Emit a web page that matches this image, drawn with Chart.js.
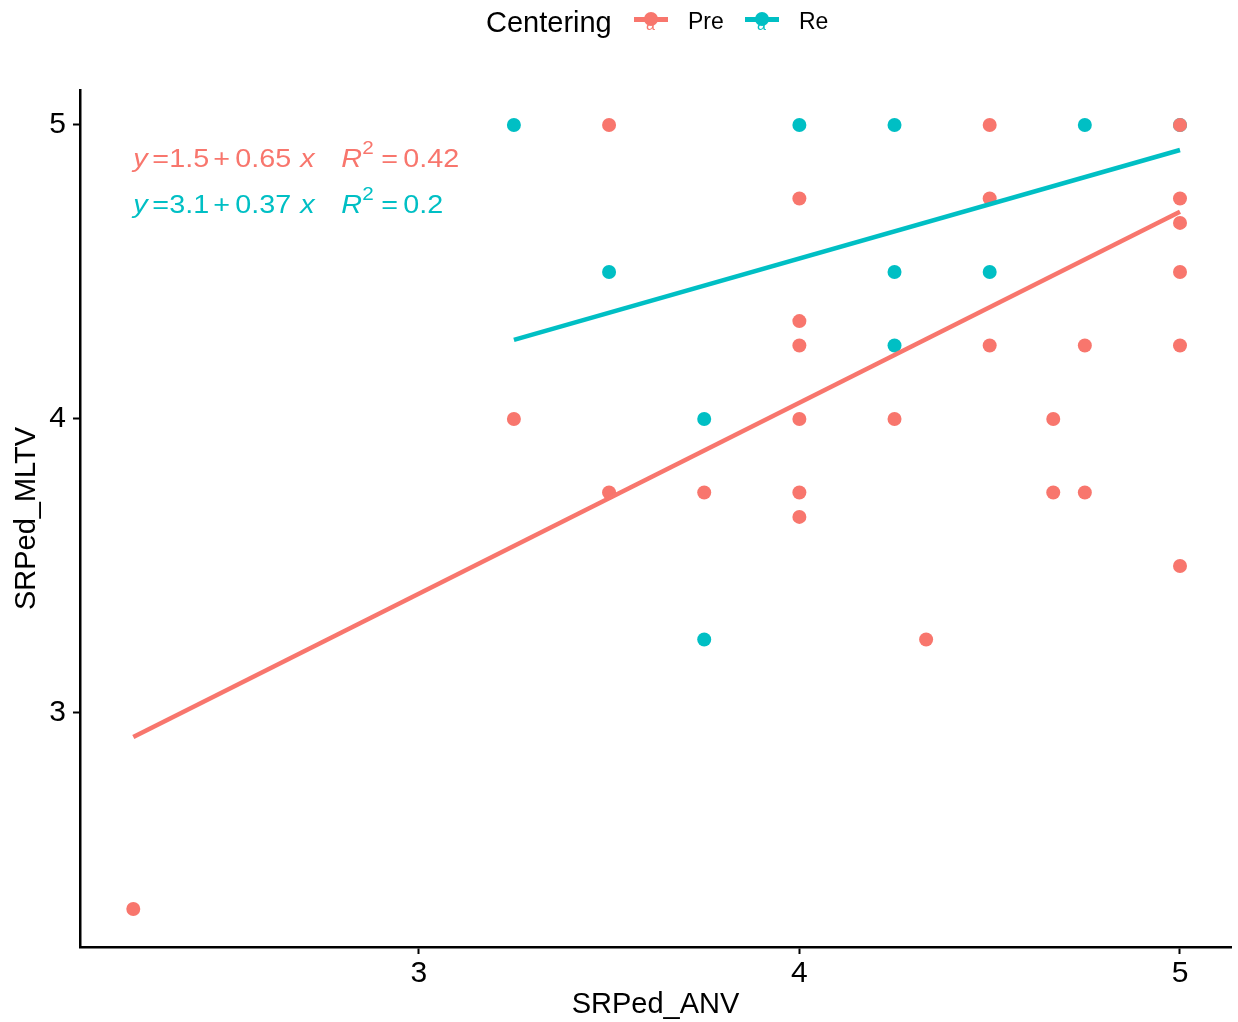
<!DOCTYPE html>
<html>
<head>
<meta charset="utf-8">
<script src="https://cdn.jsdelivr.net/npm/chart.js@4.4.1/dist/chart.umd.min.js"></script>
<style>
  html, body { margin: 0; padding: 0; background: #ffffff; }
  #wrap { position: relative; width: 1238px; height: 1022px; overflow: hidden; }
  #c { position: absolute; left: 0; top: 0; }
  .lg { position: absolute; font-family: "Liberation Sans", Arial, Helvetica, sans-serif; color: #000; white-space: nowrap; line-height: 1; }
  .kline { position: absolute; height: 5px; }
  .kdot { position: absolute; width: 14px; height: 14px; border-radius: 50%; }
  .ka { position: absolute; font-family: "Liberation Sans", Arial, sans-serif; font-size: 16px; line-height: 1; }
</style>
</head>
<body>
<div id="wrap">
  <canvas id="c" width="1238" height="1022"></canvas>
  <div id="legend"></div>
</div>
<script>
// ---------------- data ----------------
const legendTitle = 'Centering';
const seriesNames = ['Pre', 'Re'];
const seriesColors = ['#F8766D', '#00BFC4'];

const preX = [2.25, 3.25, 3.5, 3.5, 3.75, 4, 4, 4, 4, 4, 4, 4.25, 4.333, 4.5, 4.5, 4.5, 4.667, 4.667, 4.75, 4.75, 5, 5, 5, 5, 5, 5];
const preY = [2.333, 4, 5, 3.75, 3.75, 4.75, 4.333, 4.25, 4, 3.75, 3.667, 4, 3.25, 5, 4.75, 4.25, 4, 3.75, 4.25, 3.75, 5, 4.75, 4.667, 4.5, 4.25, 3.5];

const reX = [3.25, 3.5, 3.75, 3.75, 4, 4.25, 4.25, 4.25, 4.5, 4.75, 5];
const reY = [5, 4.5, 4, 3.25, 5, 5, 4.5, 4.25, 4.5, 5, 5];

// fitted regression lines (endpoints)
const preLineX = [2.25, 5];
const preLineY = [2.918, 4.705];
const reLineX = [3.25, 5];
const reLineY = [4.269, 4.915];

// equation labels
const eqIntercepts = ['1.5', '3.1'];
const eqSlopes = ['0.65', '0.37'];
const eqR2 = ['0.42', '0.2'];

const xTicks = [3, 4, 5];
const yTicks = [3, 4, 5];
const xTitle = 'SRPed_ANV';
const yTitle = 'SRPed_MLTV';

// ---------------- chart ----------------
const FAMILY = '"Liberation Sans", Arial, Helvetica, sans-serif';
const pts = (xs, ys) => xs.map((x, i) => ({ x: x, y: ys[i] }));

const pointSet = (label, xs, ys, color, order) => ({
  label: label, data: pts(xs, ys), order: order,
  backgroundColor: color, borderColor: color, borderWidth: 0,
  pointRadius: 7, pointHoverRadius: 7, pointBorderWidth: 0, showLine: false
});
const lineSet = (label, xs, ys, color, order) => ({
  label: label, data: pts(xs, ys), order: order,
  borderColor: color, backgroundColor: color, borderWidth: 4.5,
  pointRadius: 0, pointHoverRadius: 0, showLine: true, fill: false, tension: 0,
  borderCapStyle: 'butt'
});

const equationPlugin = {
  id: 'equations',
  afterDatasetsDraw(chart) {
    const ctx = chart.ctx;
    const x0 = chart.scales.x.getPixelForValue(preLineX[0]);
    const baselines = [167, 213];
    const fs = 25;
    const sx = 1.15;
    for (let k = 0; k < 2; k++) {
      const color = seriesColors[k];
      const yb = baselines[k];
      const toks = [
        { t: 'y', o: 0, it: true },
        { t: '=', o: 19 },
        { t: eqIntercepts[k], o: 36 },
        { t: '+', o: 80 },
        { t: eqSlopes[k], o: 102 },
        { t: 'x', o: 167, it: true },
        { t: 'R', o: 208, it: true },
        { t: '2', o: 229, sup: true },
        { t: '=', o: 248 },
        { t: eqR2[k], o: 270 }
      ];
      ctx.save();
      ctx.fillStyle = color;
      ctx.textBaseline = 'alphabetic';
      ctx.textAlign = 'left';
      for (const tk of toks) {
        const size = tk.sup ? Math.round(fs * 0.72) : fs;
        ctx.font = (tk.it ? 'italic ' : '') + size + 'px ' + FAMILY;
        ctx.save();
        ctx.translate(x0 + tk.o, yb - (tk.sup ? 13 : 0));
        ctx.scale(sx, 1);
        ctx.fillText(tk.t, 0, 0);
        ctx.restore();
      }
      ctx.restore();
    }
  }
};

const axisCommon = (title, ticks, isX) => ({
  type: 'linear',
  afterBuildTicks: (s) => { s.ticks = ticks.map(v => ({ value: v })); },
  grid: { display: true, drawOnChartArea: false, drawTicks: true, tickLength: 7, tickWidth: 2, tickColor: '#000' },
  border: { display: true, color: '#000', width: 2.5 },
  ticks: { color: '#000', font: { size: 30, family: FAMILY }, padding: isX ? 2 : 7, maxRotation: 0, autoSkip: false,
           callback: (v) => String(v) },
  title: { display: true, text: title, color: '#000', font: { size: 29, family: FAMILY },
           padding: isX ? { top: 0, bottom: 0 } : { top: 10, bottom: 0 } }
});

const xAxis = Object.assign(axisCommon(xTitle, xTicks, true), {
  min: 2.11, max: 5.134, afterFit: (s) => { s.height = 75; }
});
const yAxis = Object.assign(axisCommon(yTitle, yTicks, false), {
  min: 2.204, max: 5.119, afterFit: (s) => { s.width = 80; }
});

new Chart(document.getElementById('c'), {
  type: 'scatter',
  data: {
    datasets: [
      lineSet(seriesNames[0] + ' fit', preLineX, preLineY, seriesColors[0], 0),
      lineSet(seriesNames[1] + ' fit', reLineX, reLineY, seriesColors[1], 1),
      pointSet(seriesNames[0], preX, preY, seriesColors[0], 2),
      pointSet(seriesNames[1], reX, reY, seriesColors[1], 3)
    ]
  },
  options: {
    responsive: false,
    animation: false,
    devicePixelRatio: 1,
    layout: { padding: { left: 0, right: 6, top: 90, bottom: 0 } },
    plugins: { legend: { display: false }, tooltip: { enabled: false } },
    scales: { x: xAxis, y: yAxis }
  },
  plugins: [equationPlugin]
});

// ---------------- legend (HTML) ----------------
const lg = document.getElementById('legend');
function add(html) { lg.insertAdjacentHTML('beforeend', html); }
add(`<span class="lg" style="left:486px;top:8px;font-size:29px;">${legendTitle}</span>`);
const keyLeft = [634, 745];
const labelLeft = [688, 799];
seriesNames.forEach((name, i) => {
  const c = seriesColors[i];
  const kl = keyLeft[i];
  add(`<div class="kline" style="left:${kl}px;top:17px;width:34px;background:${c};"></div>`);
  add(`<div class="kdot" style="left:${kl + 10}px;top:12px;background:${c};"></div>`);
  add(`<span class="ka" style="left:${kl + 12}px;top:17px;color:${c};">a</span>`);
  add(`<span class="lg" style="left:${labelLeft[i]}px;top:10px;font-size:23px;">${name}</span>`);
});
</script>
</body>
</html>
